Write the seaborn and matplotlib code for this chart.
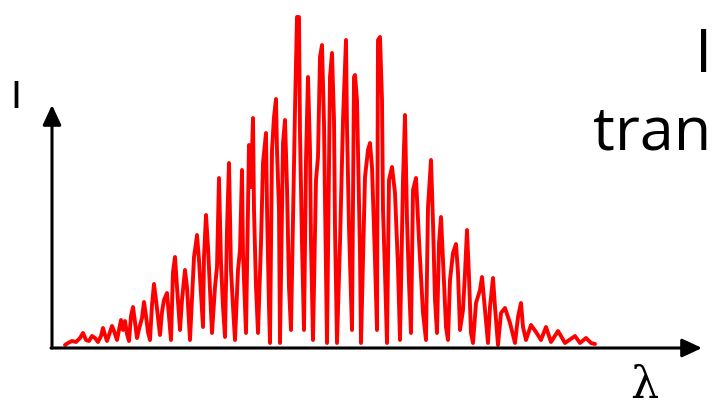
import numpy as np
import pandas as pd
import matplotlib
matplotlib.use('Agg')
import matplotlib.pyplot as plt
import seaborn as sns

# 1. DATOS (longitud de onda vs intensidad, unidades arbitrarias)
wavelength = [65, 68, 72, 76, 80, 83, 86, 89, 92, 95, 98, 101, 103, 105, 107, 110, 112, 114, 117, 119,
              121, 123, 125, 127, 129, 131, 133, 135, 137, 139, 142, 144, 146, 148, 150, 152, 154, 156, 158, 160,
              162, 164, 167, 169, 171, 173, 175, 177, 180, 182, 185, 187, 190, 194, 196, 197, 199, 201, 203, 204,
              206, 208, 210, 212, 215, 217, 219, 221, 223, 225, 227, 229, 231, 233, 235, 238, 240, 242, 243, 245,
              246, 248, 249, 251, 253, 254, 256, 258, 261, 263, 266, 267, 269, 270, 272, 274, 276, 277, 279, 280,
              283, 285, 287, 289, 291, 295, 297, 299, 300, 302, 304, 306, 308, 310, 311, 313, 316, 318, 320, 322,
              324, 325, 327, 330, 332, 334, 335, 337, 340, 343, 346, 347, 349, 352, 354, 355, 357, 360, 361, 365,
              368, 370, 372, 375, 377, 378, 380, 382, 383, 385, 387, 389, 392, 395, 398, 400, 403, 405, 407, 409,
              411, 413, 416, 419, 423, 426, 428, 431, 433, 435, 437, 439, 441, 443, 446, 448, 450, 453, 456, 458,
              460, 463, 465, 467, 469, 471, 473, 476, 480, 482, 485, 488, 490, 493, 495, 498, 501, 505, 510, 515,
              518, 521, 523, 526, 531, 536, 541, 546, 551, 558, 565, 575, 580, 586, 591, 595]
intensity = [2, 4, 6, 5, 9, 14, 7, 6, 11, 9, 5, 11, 19, 12, 6, 15, 21, 16, 7, 17,
             27, 17, 26, 13, 6, 31, 40, 25, 9, 18, 29, 45, 31, 15, 7, 42, 63, 47, 29, 12,
             35, 47, 54, 30, 7, 75, 90, 60, 17, 47, 77, 60, 7, 90, 104, 112, 87, 54, 20, 90,
             132, 100, 57, 14, 60, 80, 169, 84, 40, 10, 117, 184, 77, 40, 7, 77, 97, 177, 94, 40,
             14, 140, 202, 160, 229, 137, 60, 14, 104, 184, 214, 140, 40, 4, 197, 230, 248, 197, 137, 4,
             204, 227, 160, 60, 17, 237, 330, 330, 214, 104, 17, 187, 270, 197, 104, 7, 167, 190, 290, 302,
             224, 147, 4, 270, 294, 227, 120, 4, 104, 227, 307, 220, 120, 17, 270, 272, 247, 94, 4, 170,
             197, 204, 180, 87, 17, 307, 310, 247, 137, 74, 4, 167, 180, 154, 80, 7, 167, 232, 127, 64,
             14, 157, 169, 107, 34, 7, 140, 187, 124, 47, 14, 104, 130, 87, 20, 7, 67, 94, 103, 74,
             17, 37, 74, 117, 70, 14, 4, 44, 57, 70, 37, 4, 40, 69, 40, 2, 34, 39, 24, 4,
             30, 44, 20, 7, 22, 15, 7, 20, 5, 16, 4, 11, 4, 9, 4, 3]

df = pd.DataFrame({'lambda': wavelength, 'I': intensity})

# 2. FIGURA
sns.set_style('white')
fig = plt.figure(figsize=(7.12, 4.18), dpi=100)
ax = fig.add_axes([0, 0, 1, 1])
ax.set_xlim(0, 712)
ax.set_ylim(-71, 347)
ax.axis('off')

sns.lineplot(data=df, x='lambda', y='I', sort=False, estimator=None,
             color='#ff0000', lw=2.8, ax=ax)

# ejes con flechas
arrow = dict(arrowstyle='-|>,head_length=0.6,head_width=0.28', lw=2.2,
             color='black', mutation_scale=20, shrinkA=0, shrinkB=0)
ax.annotate('', xy=(52, 242), xytext=(52, -1), arrowprops=arrow)
ax.annotate('', xy=(702, -1), xytext=(51, -1), arrowprops=arrow)

# textos
ax.text(16, 249, 'I', fontsize=27, ha='center', va='center', color='black', family='DejaVu Sans')
ax.text(644, -38, 'λ', fontsize=32, ha='center', va='center', color='black', family='DejaVu Serif')
ax.text(711, 197, 'tran', fontsize=44, ha='right', va='baseline', color='black', family='Open Sans')
ax.text(712, 275, 'I', fontsize=44, ha='right', va='baseline', color='black', family='Open Sans')

fig.savefig('out.png', dpi=100)
